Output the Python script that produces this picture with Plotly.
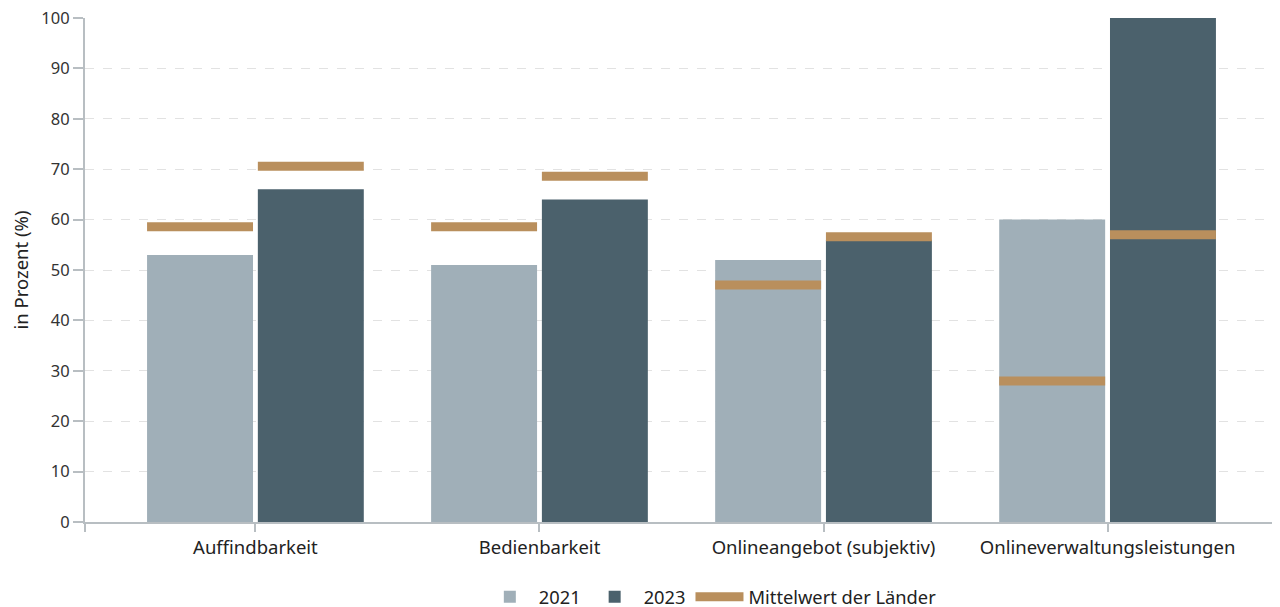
import numpy as np
import plotly.graph_objects as go

categories = ["Auffindbarkeit", "Bedienbarkeit", "Onlineangebot (subjektiv)", "Onlineverwaltungsleistungen"]
values_2021 = [53, 51, 52, 60]
values_2023 = [66, 64, 56, 100]
mean_2021 = [58.6, 58.6, 47, 28]
mean_2023 = [70.6, 68.6, 56.6, 57]
y_ticks = [0, 10, 20, 30, 40, 50, 60, 70, 80, 90, 100]

pos = np.arange(len(categories))
off = 0.195
bw = 0.373
half = bw / 2

c21 = "#a0afb8"
c23 = "#4b616c"
cm = "#b98f5d"
font = "Noto Sans"

fig = go.Figure()
fig.add_trace(go.Bar(x=pos - off, y=values_2021, width=bw, marker=dict(color=c21, line=dict(width=0)),
                     name="2021"))
fig.add_trace(go.Bar(x=pos + off, y=values_2023, width=bw, marker=dict(color=c23, line=dict(width=0)),
                     name="2023"))

mx, my = [], []
for p, m1, m2 in zip(pos, mean_2021, mean_2023):
    mx += [p - off - half, p - off + half, None, p + off - half, p + off + half, None]
    my += [m1, m1, None, m2, m2, None]
fig.add_trace(go.Scatter(x=mx, y=my, mode="lines", line=dict(color=cm, width=9),
                         name="Mittelwert der Länder", connectgaps=False))

tickvals = [-0.6] + list(pos)
ticktext = [""] + categories

fig.update_layout(
    width=1272, height=630,
    margin=dict(l=77, r=2, t=10, b=116),
    plot_bgcolor="white", paper_bgcolor="white",
    barmode="overlay",
    font=dict(family=font, color="#222", size=16),
    showlegend=True,
    legend=dict(orientation="h", x=0.525, xanchor="center", y=-0.112, yanchor="top",
                font=dict(size=18.3, color="#222"), itemwidth=48, traceorder="normal"),
    xaxis=dict(range=[-0.6, 3.6], tickvals=tickvals, ticktext=ticktext, automargin=False,
               showgrid=False, zeroline=False, showline=True, linecolor="#b8bec2", linewidth=2,
               ticks="outside", ticklen=8, tickcolor="#b8bec2", tickwidth=2,
               tickfont=dict(size=18.5, color="#222")),
    yaxis=dict(range=[0, 100], tickvals=y_ticks, showgrid=True, gridcolor="#e2e2e2",
               griddash="dash", gridwidth=1, zeroline=False, showline=True, automargin=False,
               linecolor="#b8bec2", linewidth=2, ticks="outside", ticklen=10,
               ticklabeloverflow="allow",
               tickcolor="#b8bec2", tickwidth=2, tickfont=dict(size=16.5, color="#333"),
               title=dict(text="in Prozent (%)", font=dict(size=18.5, color="#222"), standoff=22)),
)

fig.write_html("out.html")
